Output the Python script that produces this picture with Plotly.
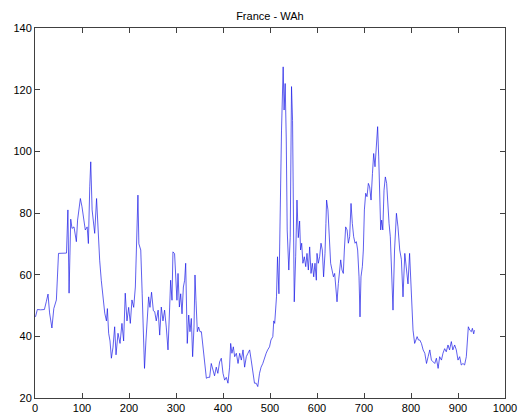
import plotly.graph_objects as go

# Sample index (day number) and WAh level for France
day = [
    1, 5, 12, 20, 24, 27.7, 31, 36, 40, 45.5, 50, 58, 67, 70, 72.5, 76, 78.7, 83, 88, 90.6,
    96.5, 100, 103.5, 107, 111, 113.6, 116.5, 118.6, 121.5, 124, 127, 131, 134, 137.6, 141,
    144.8, 148.4, 152, 154, 156.7, 159.6, 162.5, 166, 169.5, 172.4, 176.6, 180.9, 185, 188.6,
    192, 195.7, 199.3, 202.8, 206.3, 210, 213.5, 216.3, 219, 221, 225, 228, 230, 233, 236, 239,
    241.8, 244.6, 248, 251.8, 254.7, 258, 262, 265.3, 268.7, 272.3, 275.7, 279.3, 283, 286.5,
    288.6, 291.5, 293.5, 297, 299.3, 302, 304.3, 307.2, 310, 312.8, 315.7, 318.4, 320.6, 322.7,
    324, 327, 329.7, 332.6, 335.4, 338.3, 340.4, 342.5, 345.4, 348.2, 351, 354, 357.5, 361,
    364.6, 368, 371.6, 375, 378.7, 382, 385.7, 389, 392.8, 396.4, 400, 403.5, 407, 410.6, 414,
    416.3, 419, 422, 424.8, 428.4, 432, 435.5, 439, 442.6, 446, 449.6, 453, 456.7, 460, 463.8,
    467, 470.6, 474, 477.7, 481, 484.7, 488, 491.8, 495, 499, 502, 506, 508, 510, 513.8, 516,
    519, 522, 524.5, 528, 530, 532.3, 534.6, 536.6, 540, 543, 545.8, 548, 550, 551.6, 554.6,
    557.4, 560.2, 563, 565, 567.4, 570, 573, 576, 578.7, 581.6, 584.4, 587.3, 590, 593, 595.7,
    598.6, 600, 602.8, 605.6, 608.5, 611.3, 614, 617, 619, 620.4, 623.3, 626, 629, 632, 635,
    637.6, 640.5, 642.6, 645.4, 648.3, 650.4, 653.2, 656, 658.2, 661, 664, 666.7, 669.5, 672.4,
    675.2, 678, 681, 683.7, 686.5, 689.4, 691.5, 693.6, 696.5, 698.6, 700.8, 703.6, 706.4,
    709.3, 712, 715, 718, 720.6, 723.4, 726.3, 729, 731.3, 733.4, 735.5, 737.6, 740, 742.6,
    745.4, 748.2, 750.4, 753.3, 756, 758, 761.7, 765, 769, 772.3, 776, 779.5, 783, 786.8, 790,
    793.6, 797, 799.5, 801.4, 804.3, 807.8, 810, 813, 815.8, 818.7, 822.2, 825.8, 829.4, 833,
    836.4, 840, 843.4, 847, 850.6, 854, 857.7, 861, 864.8, 868, 871.6, 875, 878.7, 882, 885.8,
    889, 892.9, 896.4, 900, 903.5, 907, 910.6, 914, 917.7, 919.8, 922, 925, 928.4, 930.6,
    933.4, 935,
]

wah = [
    46.3, 48.7, 48.6, 48.7, 51.2, 53.7, 47.6, 42.7, 49, 51.8, 66.9, 66.9, 67, 81, 54, 78, 75,
    75.5, 70.7, 77.7, 84.7, 82, 77.7, 74.5, 75.5, 70.1, 88.5, 96.6, 81, 77.7, 73.4, 84.7, 74.5,
    64.7, 58.2, 52.8, 47.5, 45, 49, 41, 38.5, 32.9, 36.5, 43.1, 34, 41, 37.7, 44.2, 38.5, 54,
    45, 49.4, 44.2, 51.8, 49.4, 56, 69, 85.8, 70, 68, 54, 39.9, 29.6, 38.5, 45, 52.8, 49.4,
    54.3, 48.3, 48, 45, 48.5, 40.4, 49.5, 45, 48.5, 43, 35.6, 49.5, 58.2, 51.7, 67.4, 66.8,
    58.2, 51.7, 60.4, 49.5, 53.8, 47.3, 56, 58.2, 63.7, 49.5, 37.7, 46.9, 41.5, 45.8, 33.4, 43,
    59.9, 51.7, 41.5, 43, 41.5, 41.5, 36, 30.2, 26.4, 26.7, 26.7, 31.2, 29, 27.2, 30, 28, 31.7,
    32.9, 28, 25.8, 26.7, 24.8, 30, 37.7, 34.5, 36.6, 33.4, 34.5, 31.2, 34.5, 32.3, 35.6, 30,
    33.4, 34.5, 35.6, 32.3, 27.5, 24.8, 24.8, 23.7, 28, 30, 31.2, 32.9, 34.5, 35.6, 36.6, 38.8,
    39.9, 45, 44.2, 52.8, 65.8, 53.8, 87.4, 106.9, 127.4, 113.4, 122, 104, 74.5, 61.5, 72, 121,
    110, 81, 51.2, 65.8, 84.2, 72, 77.4, 68, 70.2, 63.7, 65.8, 62.6, 66.9, 61.5, 69, 60.4, 63.7,
    59.3, 63.7, 58.2, 66.9, 63.7, 65.8, 70.2, 68, 59.3, 66.9, 76.6, 84.2, 81, 72, 63.7, 61.5,
    59.3, 60.4, 55, 51.2, 57.1, 62.6, 64.8, 61.5, 60.4, 68, 75.5, 74.5, 70.2, 72.3, 83.1, 76.6,
    72.3, 70.2, 70.7, 68, 59.3, 46.3, 59.3, 62.6, 68, 81, 86.4, 85.3, 89.6, 88.5, 84.2, 92.8,
    99.3, 95, 100.4, 108, 98.2, 85.3, 74.5, 77.7, 74.5, 87.4, 91.7, 89.6, 83.1, 76.6, 72.3,
    62.6, 48.5, 68, 79.9, 75.5, 68, 65, 52.8, 66.9, 62.6, 57, 66.9, 56, 49.6, 42, 37.7, 38.8,
    39.9, 38.8, 38.8, 37.7, 35.6, 34.5, 31.2, 33.4, 35.6, 32.3, 31.8, 31.2, 32.9, 29.6, 33.4,
    32.3, 34.5, 36, 35, 37.2, 35.6, 38.3, 35.6, 37.2, 35.6, 32.3, 33.4, 30.7, 31.2, 30.7, 33.4,
    37.7, 43.1, 42, 41.5, 42.6, 40.8, 42,
]

x_ticks = [0, 100, 200, 300, 400, 500, 600, 700, 800, 900, 1000]
y_ticks = [20, 40, 60, 80, 100, 120, 140]

fig = go.Figure(
    go.Scatter(
        x=day,
        y=wah,
        mode="lines",
        line=dict(color="#1a1ae6", width=0.7),
        hoverinfo="skip",
    )
)

axis_style = dict(
    showgrid=False,
    zeroline=False,
    showline=True,
    linecolor="#404040",
    linewidth=1,
    mirror="ticks",
    ticks="inside",
    ticklen=5,
    tickcolor="#404040",
    automargin=False,
    tickfont=dict(family="Liberation Sans, Arial, sans-serif", size=11, color="#000000"),
)

fig.update_layout(
    width=519,
    height=416,
    margin=dict(l=35, r=14, t=28, b=18),
    paper_bgcolor="#ffffff",
    plot_bgcolor="#ffffff",
    showlegend=False,
    title=dict(
        text="France - WAh",
        x=0.52,
        xanchor="center",
        y=1 - 16 / 416,
        yanchor="middle",
        font=dict(family="Liberation Sans, Arial, sans-serif", size=11, color="#000000"),
    ),
    xaxis=dict(range=[0, 1000], tickvals=x_ticks, ticktext=[str(v) for v in x_ticks], **axis_style),
    yaxis=dict(range=[20, 140], tickvals=y_ticks, ticktext=[str(v) for v in y_ticks], **axis_style),
)

fig.write_html("out.html")
